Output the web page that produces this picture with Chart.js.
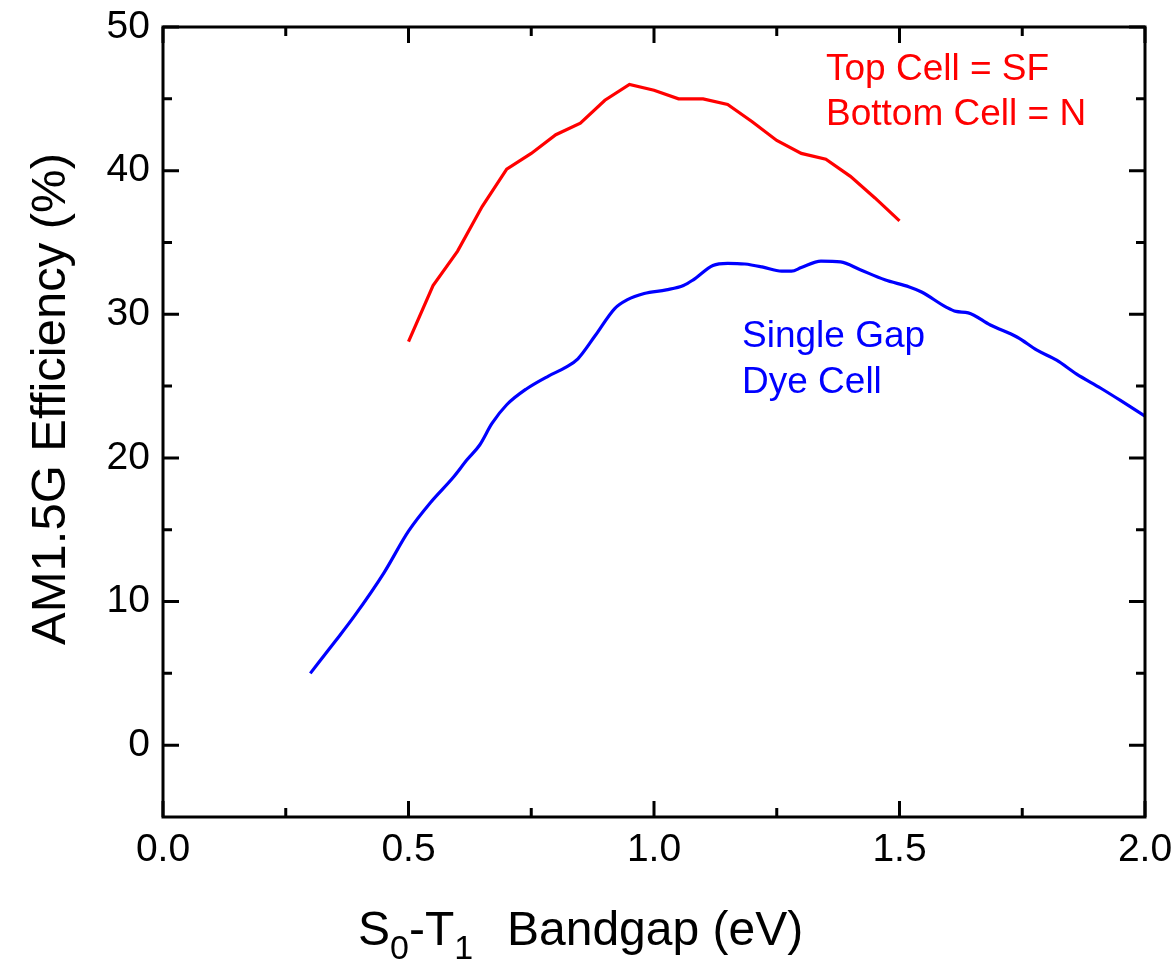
<!DOCTYPE html>
<html><head><meta charset="utf-8">
<script src="https://cdn.jsdelivr.net/npm/chart.js@4/dist/chart.umd.min.js"></script>
<style>html,body{margin:0;padding:0;background:#fff}canvas{display:block}</style>
</head><body>
<canvas id="c" width="1176" height="960"></canvas>
<script>
// ---- data ----
const redX = [0.50,0.55,0.60,0.65,0.70,0.75,0.80,0.85,0.90,0.95,1.00,1.05,1.10,1.15,1.20,1.25,1.30,1.35,1.40,1.45,1.50];
const redY = [28.1,32.0,34.4,37.5,40.1,41.2,42.5,43.3,44.9,46.0,45.6,45.0,45.0,44.6,43.4,42.1,41.2,40.8,39.6,38.1,36.5];
const blueX = [0.30,0.35,0.39,0.45,0.50,0.545,0.59,0.62,0.645,0.67,0.70,0.74,0.785,0.82,0.845,0.88,0.92,0.945,0.98,1.025,1.06,1.08,1.12,1.15,1.185,1.22,1.26,1.28,1.30,1.34,1.38,1.42,1.47,1.52,1.545,1.595,1.615,1.64,1.685,1.74,1.78,1.82,1.86,1.91,1.95,2.00];
const blueY = [5.0,7.2,9.0,12.0,14.9,16.9,18.6,19.9,20.9,22.4,23.7,24.8,25.7,26.3,26.9,28.5,30.4,31.0,31.45,31.7,32.0,32.4,33.4,33.55,33.5,33.3,33.0,33.0,33.25,33.7,33.65,33.1,32.4,31.9,31.55,30.5,30.2,30.1,29.25,28.4,27.5,26.8,25.85,24.85,24.0,22.9];
const xTicks = [0.0,0.5,1.0,1.5,2.0];
const xMinor = [0.25,0.75,1.25,1.75];
const yTicks = [0,10,20,30,40,50];
const yMinor = [5,15,25,35,45];
const redLabel = ["Top Cell = SF","Bottom Cell = N"];
const blueLabel = ["Single Gap","Dye Cell"];
const yTitle = "AM1.5G Efficiency (%)";
const xTitleParts = [["S",0],["0",1],["-T",0],["1",1]];
const xTitleRest = "Bandgap (eV)";

const FAM = '"Liberation Sans", Arial, Helvetica, sans-serif';

const framePlugin = {
  id: 'frame',
  afterDatasetsDraw(chart) {
    const {ctx, chartArea: a, scales: {x, y}} = chart;
    ctx.save();
    ctx.strokeStyle = '#000';
    ctx.lineWidth = 3;
    ctx.lineCap = 'butt';
    const major = 16, minor = 9;
    ctx.beginPath();
    xTicks.forEach(v => { const p = x.getPixelForValue(v);
      ctx.moveTo(p, a.bottom); ctx.lineTo(p, a.bottom - major);
      ctx.moveTo(p, a.top); ctx.lineTo(p, a.top + major); });
    xMinor.forEach(v => { const p = x.getPixelForValue(v);
      ctx.moveTo(p, a.bottom); ctx.lineTo(p, a.bottom - minor);
      ctx.moveTo(p, a.top); ctx.lineTo(p, a.top + minor); });
    yTicks.forEach(v => { const p = y.getPixelForValue(v);
      ctx.moveTo(a.left, p); ctx.lineTo(a.left + major, p);
      ctx.moveTo(a.right, p); ctx.lineTo(a.right - major, p); });
    yMinor.forEach(v => { const p = y.getPixelForValue(v);
      ctx.moveTo(a.left, p); ctx.lineTo(a.left + minor, p);
      ctx.moveTo(a.right, p); ctx.lineTo(a.right - minor, p); });
    ctx.stroke();
    ctx.lineJoin = 'miter';
    ctx.strokeRect(a.left, a.top, a.right - a.left, a.bottom - a.top);

    // annotations
    ctx.textAlign = 'left';
    ctx.textBaseline = 'alphabetic';
    ctx.font = '37px ' + FAM;
    ctx.fillStyle = '#ff0000';
    redLabel.forEach((t, i) => ctx.fillText(t, 826, 80 + i * 45));
    ctx.fillStyle = '#0000ff';
    blueLabel.forEach((t, i) => ctx.fillText(t, 742, 347 + i * 46));

    // y title
    ctx.fillStyle = '#000';
    ctx.save();
    ctx.translate(65, 399);
    ctx.rotate(-Math.PI / 2);
    ctx.textAlign = 'center';
    ctx.font = '49px ' + FAM;
    ctx.fillText(yTitle, 0, 0);
    ctx.restore();

    // x title with subscripts
    let cx = 358;
    xTitleParts.forEach(([t, sub]) => {
      ctx.font = (sub ? '34px ' : '48px ') + FAM;
      ctx.fillText(t, cx, 945 + (sub ? 14 : 0));
      cx += ctx.measureText(t).width;
    });
    ctx.font = '48px ' + FAM;
    ctx.fillText(xTitleRest, 507, 945);
    ctx.restore();
  }
};

new Chart(document.getElementById('c'), {
  type: 'scatter',
  data: {
    datasets: [
      { data: redX.map((v, i) => ({x: v, y: redY[i]})), showLine: true, borderColor: '#ff0000',
        backgroundColor: '#ff0000', borderWidth: 3.2, pointRadius: 0, tension: 0, fill: false },
      { data: blueX.map((v, i) => ({x: v, y: blueY[i]})), showLine: true, borderColor: '#0000ff',
        backgroundColor: '#0000ff', borderWidth: 3.2, pointRadius: 0, cubicInterpolationMode: 'monotone', fill: false }
    ]
  },
  options: {
    responsive: false,
    animation: false,
    devicePixelRatio: 1,
    layout: { padding: { top: 27, right: 31, left: 0, bottom: 0 } },
    plugins: { legend: { display: false }, tooltip: { enabled: false } },
    scales: {
      x: {
        type: 'linear', min: 0, max: 2,
        grid: { display: false, drawTicks: false },
        border: { display: false },
        afterBuildTicks: s => { s.ticks = xTicks.map(v => ({value: v})); },
        ticks: { callback: v => Number(v).toFixed(1), font: { family: FAM, size: 39 }, color: '#000',
                 padding: 10, maxRotation: 0, autoSkip: false },
        afterFit: s => { s.height = 143; s.paddingLeft = 0; s.paddingRight = 0; }
      },
      y: {
        type: 'linear', min: -5, max: 50,
        grid: { display: false, drawTicks: false },
        border: { display: false },
        afterBuildTicks: s => { s.ticks = yTicks.map(v => ({value: v})); },
        ticks: { callback: v => String(v), font: { family: FAM, size: 39 }, color: '#000',
                 padding: 13, autoSkip: false },
        afterFit: s => { s.width = 163; s.paddingTop = 0; s.paddingBottom = 0; }
      }
    }
  },
  plugins: [framePlugin]
});
</script>
</body></html>
